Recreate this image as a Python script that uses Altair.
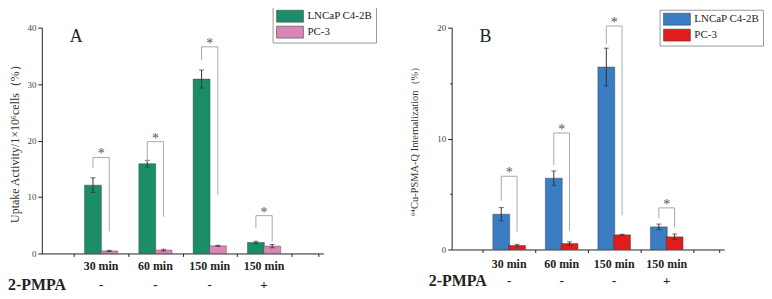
import altair as alt
import pandas as pd

categories = ["30 min", "60 min", "150 min", "150 min"]
pmpa_signs = ["-", "-", "-", "+"]
positions = [1, 2, 3, 4]
series = ["LNCaP C4-2B", "PC-3"]

# Panel A: uptake activity
a_lncap = [12.1, 15.9, 30.9, 1.95]
a_lncap_err = [1.3, 0.6, 1.6, 0.2]
a_pc3 = [0.45, 0.6, 1.35, 1.3]
a_pc3_err = [0.1, 0.15, 0.1, 0.3]
a_br_top = [17.0, 19.8, 36.6, 6.7]
a_br_left = [15.1, 16.2, 34.2, 4.5]
a_br_right = [3.9, 6.5, 10.4, 2.1]

# Panel B: internalization
b_lncap = [3.18, 6.43, 16.45, 2.04]
b_lncap_err = [0.6, 0.65, 1.7, 0.25]
b_pc3 = [0.36, 0.54, 1.32, 1.14]
b_pc3_err = [0.1, 0.15, 0.05, 0.25]
b_br_top = [6.6, 10.5, 20.15, 3.75]
b_br_left = [4.4, 7.6, 18.5, 2.8]
b_br_right = [1.6, 1.7, 3.1, 2.0]

SERIF = "Liberation Serif"
HALF = 0.15
SYMBOL = "M-2.25,-1L2.25,-1L2.25,1L-2.25,1Z"


def panel(lncap, lncap_err, pc3, pc3_err, top, left, right, ymax, step, major, colors,
          letter, ytitle, w, h, title_pad, title_size, leg_x, leg_y, pmpa_x,
          cat_dy, sign_dy):
    bars = pd.DataFrame({
        "pos": positions * 2,
        "series": [series[0]] * 4 + [series[1]] * 4,
        "value": lncap + pc3,
        "err": lncap_err + pc3_err,
    })
    brackets = pd.DataFrame({"pos": positions, "top": top, "left": left, "right": right})
    cats = pd.DataFrame({"pos": positions, "cat": categories, "sign": pmpa_signs})

    xscale = alt.Scale(domain=[0, 5], nice=False, zero=False)
    xaxis = alt.Axis(values=[0.5, 1.5, 2.5, 3.5, 4.5, 5], labels=False, tickSize=3,
                     title=None, grid=False, domainColor="#222", tickColor="#222")
    n = int(round(ymax / step))
    yaxis = alt.Axis(
        values=[i * step for i in range(n + 1)],
        labelExpr=f"datum.value % {major} === 0 ? datum.label : ''",
        tickSize={"condition": {"test": f"datum.value % {major} === 0", "value": 4}, "value": 2},
        title=ytitle, titleFont=SERIF, titleFontSize=title_size, titleFontWeight="normal",
        titleColor="#333", titlePadding=title_pad,
        labelFont=SERIF, labelFontSize=9, labelColor="#444", labelPadding=2,
        grid=False, domainColor="#222", tickColor="#222",
    )
    yscale = alt.Scale(domain=[0, ymax], nice=False)

    base = alt.Chart(bars).transform_calculate(
        xc=f"datum.pos + (datum.series === 'PC-3' ? {HALF} : -{HALF})",
        lo="datum.value - datum.err",
        hi="datum.value + datum.err",
    )
    bar = base.mark_bar(width=17, stroke="#333", strokeWidth=0.4).encode(
        x=alt.X("xc:Q", scale=xscale, axis=xaxis),
        y=alt.Y("value:Q", scale=yscale, axis=yaxis),
        color=alt.Color("series:N", scale=alt.Scale(domain=series, range=colors),
                        legend=alt.Legend(orient="none", legendX=leg_x, legendY=leg_y, title=None,
                                          symbolType=SYMBOL, symbolSize=144,
                                          symbolOffset=8,
                                          symbolStrokeColor="#444", symbolStrokeWidth=0.6,
                                          labelFont=SERIF, labelFontSize=11, labelColor="#222",
                                          labelOffset=11, padding=3, rowPadding=1,
                                          strokeColor="#999")),
    )
    err = base.mark_rule(color="#333", strokeWidth=1).encode(
        x="xc:Q", y="lo:Q", y2="hi:Q")
    cap_hi = base.mark_tick(color="#333", size=5, thickness=1, orient="horizontal").encode(
        x="xc:Q", y="hi:Q")
    cap_lo = base.mark_tick(color="#333", size=5, thickness=1, orient="horizontal").encode(
        x="xc:Q", y="lo:Q")

    bb = alt.Chart(brackets).transform_calculate(
        xl=f"datum.pos - {HALF}", xr=f"datum.pos + {HALF}")
    bcol = "#a8a8a8"
    hline = bb.mark_rule(color=bcol, strokeWidth=1).encode(x="xl:Q", x2="xr:Q", y="top:Q")
    lleg = bb.mark_rule(color=bcol, strokeWidth=1).encode(x="xl:Q", y="left:Q", y2="top:Q")
    rleg = bb.mark_rule(color=bcol, strokeWidth=1).encode(x="xr:Q", y="right:Q", y2="top:Q")
    star = bb.mark_text(text="*", font=SERIF, fontSize=14, color="#555", baseline="middle",
                        dy=-3).encode(x="pos:Q", y="top:Q")

    cc = alt.Chart(cats)
    cat_text = cc.mark_text(font=SERIF, fontSize=12, fontWeight="bold", color="#222",
                            baseline="middle").encode(
        x="pos:Q", y=alt.value(h + cat_dy), text="cat:N")
    sign_text = cc.mark_text(font=SERIF, fontSize=13, fontWeight="bold", color="#222",
                             baseline="middle").encode(
        x="pos:Q", y=alt.value(h + sign_dy), text="sign:N")

    tt = alt.Chart(pd.DataFrame({"t": ["2-PMPA"], "l": [letter]}))
    pmpa_lab = tt.mark_text(font=SERIF, fontSize=16, fontWeight="bold", color="#222",
                            align="left", baseline="middle").encode(
        x=alt.value(pmpa_x), y=alt.value(h + sign_dy), text="t:N")
    letter_lab = tt.mark_text(font=SERIF, fontSize=18, color="#222", align="left",
                              baseline="middle").encode(
        x=alt.value(28), y=alt.value(9), text="l:N")

    return alt.layer(bar, err, cap_hi, cap_lo, hline, lleg, rleg, star, cat_text,
                     sign_text, pmpa_lab, letter_lab).properties(width=w, height=h)


pa = panel(a_lncap, a_lncap_err, a_pc3, a_pc3_err, a_br_top, a_br_left, a_br_right, 40, 5, 10,
           ["#1b8e69", "#d986b6"], "A", "Uptake Activity/1×10⁶cells（%）",
           283, 227, 5, 12, 232, -21, -34, 13, 32)
pb = panel(b_lncap, b_lncap_err, b_pc3, b_pc3_err, b_br_top, b_br_left, b_br_right, 20, 5, 10,
           ["#3a7dc2", "#e01c1c"], "B", "⁶⁴Cu-PSMA-Q Internalization（%）",
           274, 223, 17, 10.5, 209, -18, -23, 15, 32)

chart = alt.hconcat(pa, pb, spacing=129, bounds="flush").resolve_scale(
    color="independent").properties(
    padding={"left": 0, "top": -3, "right": 0, "bottom": 0}
).configure_view(stroke=None)

chart.save("out.html", embed_options={"renderer": "svg", "actions": False})
